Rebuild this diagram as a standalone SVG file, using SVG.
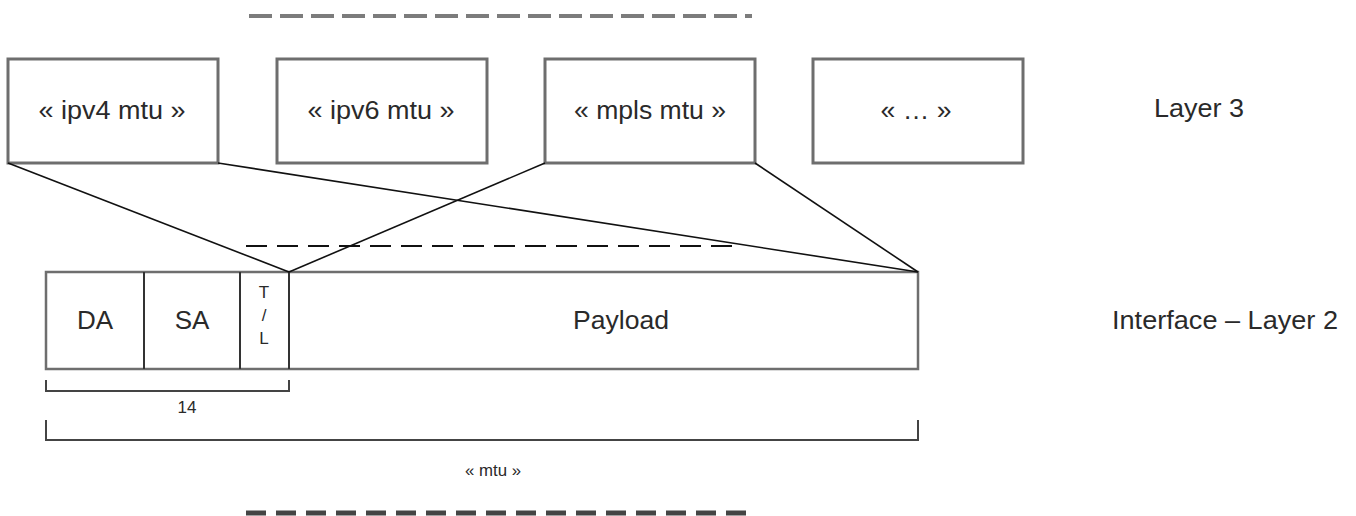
<svg xmlns="http://www.w3.org/2000/svg" width="1356" height="516" viewBox="0 0 1356 516">
<style>
.box{fill:#fff;stroke:#6e6e6e;stroke-width:3}
.frame{fill:#fff;stroke:#6e6e6e;stroke-width:2.5}
.div{stroke:#333;stroke-width:2}
.ln{stroke:#111;stroke-width:1.6;fill:none}
.br{stroke:#444;stroke-width:2;fill:none}
text{font-family:"Liberation Sans",Arial,sans-serif;fill:#2a2a2a}
.t{font-size:26px;text-anchor:middle}
.s{font-size:17px;text-anchor:middle}
.r{font-size:26px}
</style>
<rect width="1356" height="516" fill="#fff"/>
<g id="dashes">
<line x1="249" y1="16" x2="752" y2="16" stroke="#7c7c7c" stroke-width="4" stroke-dasharray="23 8"/>
<line x1="246" y1="246" x2="735" y2="246" stroke="#111" stroke-width="2" stroke-dasharray="21 10"/>
<line x1="246" y1="513" x2="752" y2="513" stroke="#444" stroke-width="5" stroke-dasharray="20 10"/>
</g>
<g id="ipv4"><rect class="box" x="8" y="59" width="210" height="104"/><text class="t" x="112" y="119" textLength="147" lengthAdjust="spacingAndGlyphs">« ipv4 mtu »</text></g>
<g id="ipv6"><rect class="box" x="277" y="59" width="210" height="104"/><text class="t" x="381" y="119" textLength="147" lengthAdjust="spacingAndGlyphs">« ipv6 mtu »</text></g>
<g id="mpls"><rect class="box" x="545" y="59" width="210" height="104"/><text class="t" x="650" y="119" textLength="152" lengthAdjust="spacingAndGlyphs">« mpls mtu »</text></g>
<g id="other"><rect class="box" x="813" y="59" width="210" height="104"/><text class="t" x="916" y="119" textLength="71" lengthAdjust="spacingAndGlyphs">« … »</text></g>
<g id="layer3"><text class="r" x="1154" y="117" textLength="90" lengthAdjust="spacingAndGlyphs">Layer 3</text></g>
<g id="frame">
<rect class="frame" x="46" y="272" width="872" height="97"/>
<line class="div" x1="144" y1="272" x2="144" y2="369"/>
<line class="div" x1="240" y1="272" x2="240" y2="369"/>
<line class="div" x1="289" y1="272" x2="289" y2="369"/>
<text class="t" x="95" y="329">DA</text>
<text class="t" x="192" y="329">SA</text>
<text class="s" x="264" y="298">T</text>
<text class="s" x="264" y="321">/</text>
<text class="s" x="264" y="344">L</text>
<text class="t" x="621" y="329" textLength="96" lengthAdjust="spacingAndGlyphs">Payload</text>
</g>
<g id="layer2"><text class="r" x="1112" y="329" textLength="226" lengthAdjust="spacingAndGlyphs">Interface – Layer 2</text></g>
<g id="connectors">
<line class="ln" x1="8" y1="163" x2="289" y2="272"/>
<line class="ln" x1="218" y1="163" x2="918" y2="272"/>
<line class="ln" x1="545" y1="163" x2="289" y2="272"/>
<line class="ln" x1="755" y1="163" x2="918" y2="272"/>
</g>
<g id="brackets">
<path class="br" d="M46,380 V391 H289 V380"/>
<text class="s" x="187" y="413">14</text>
<path class="br" d="M46,420 V440 H918 V420"/>
<text class="s" x="493" y="476" textLength="56" lengthAdjust="spacingAndGlyphs">« mtu »</text>
</g>
</svg>
